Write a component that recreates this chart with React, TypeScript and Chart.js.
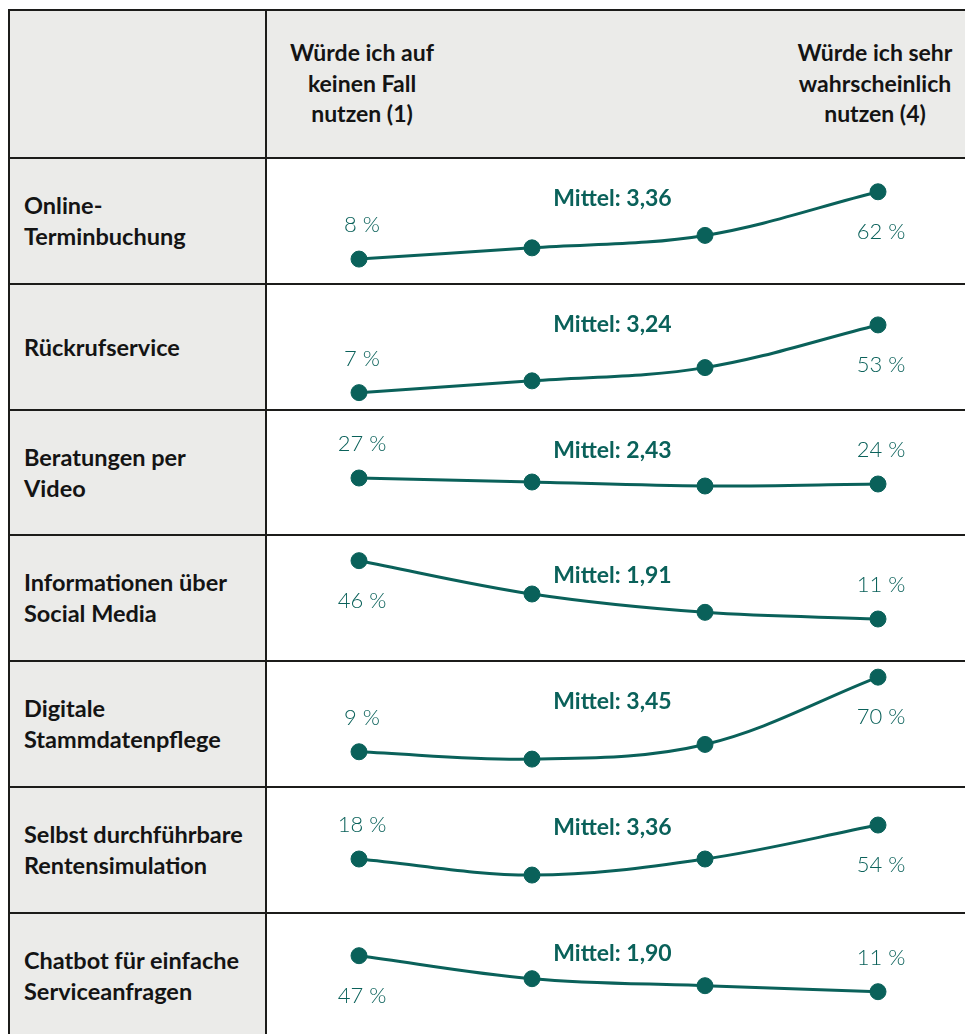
import React, { useEffect, useRef } from "react";
import { Chart, registerables } from "chart.js";

Chart.register(...registerables);

// ---------- data ----------
const categories = ["1", "2", "3", "4"];
const headerLow = ["Würde ich auf", "keinen Fall", "nutzen (1)"];
const headerHigh = ["Würde ich sehr", "wahrscheinlich", "nutzen (4)"];
const rowLabels = [
  ["Online-", "Terminbuchung"],
  ["Rückrufservice"],
  ["Beratungen per", "Video"],
  ["Informationen über", "Social Media"],
  ["Digitale", "Stammdatenpflege"],
  ["Selbst durchführbare", "Rentensimulation"],
  ["Chatbot für einfache", "Serviceanfragen"],
];
const onlineTerminbuchung = [8, 17, 27, 62];
const rueckrufservice = [7, 15, 24, 53];
const beratungenVideo = [27, 25, 23, 24];
const socialMedia = [46, 26, 15, 11];
const stammdatenpflege = [9, 3, 15, 70];
const rentensimulation = [18, 1, 18, 54];
const chatbot = [47, 24, 17, 11];
const series = [
  onlineTerminbuchung,
  rueckrufservice,
  beratungenVideo,
  socialMedia,
  stammdatenpflege,
  rentensimulation,
  chatbot,
];
const means = [3.36, 3.24, 2.43, 1.91, 3.45, 3.36, 1.9];
// per-row value axis ranges
const yMin = [-12, -4.8, -2, -14.2, -19.8, -39.2, -36.3];
const yMax = [89.1, 80.8, 61, 61.4, 83.2, 94.3, 89.7];

// ---------- style / layout ----------
const TEAL = "#0a615a";
const LINE = "#1c1c1a";
const GRAY = "#ebebe9";
const FONT = "Lato, 'Noto Sans', sans-serif";
const TABLE_LEFT = 9;
const TABLE_TOP = 10;
const COL_X = 266;
const HEAD_BOTTOM = 158;
const ROW_H = 125.8;
const PAGE_W = 965;
const PAGE_H = 1034;

function RowChart(props: { values: number[]; mean: number; min: number; max: number; top: number; height: number }) {
  const ref = useRef<HTMLCanvasElement | null>(null);
  const { values, mean, min, max, top, height } = props;
  const width = PAGE_W - COL_X;
  useEffect(() => {
    if (!ref.current) return;
    const labelPlugin = {
      id: "rowLabels",
      afterDatasetsDraw(chart: any) {
        const { ctx, chartArea } = chart;
        const meta = chart.getDatasetMeta(0);
        const data = chart.data.datasets[0].data as number[];
        const mid = (chartArea.top + chartArea.bottom) / 2;
        ctx.save();
        ctx.fillStyle = TEAL;
        ctx.textAlign = "center";
        ctx.textBaseline = "middle";
        ctx.font = `300 22px ${FONT}`;
        [0, data.length - 1].forEach((i) => {
          const p = meta.data[i];
          const y = p.y > mid ? p.y - 34 : p.y + 40;
          ctx.fillText(`${data[i]} %`, p.x + 3, y);
        });
        ctx.font = `bold 23px ${FONT}`;
        ctx.fillText(
          `Mittel: ${mean.toFixed(2).replace(".", ",")}`,
          chart.width / 2 - 3,
          chartArea.top + 41
        );
        ctx.restore();
      },
    };
    const chart = new Chart(ref.current, {
      type: "line",
      data: {
        labels: categories,
        datasets: [
          {
            data: values,
            borderColor: TEAL,
            backgroundColor: TEAL,
            borderWidth: 3,
            pointRadius: 8,
            pointHoverRadius: 8,
            pointBackgroundColor: TEAL,
            pointBorderColor: TEAL,
            pointBorderWidth: 1,
            tension: 0.35,
            fill: false,
            clip: false as any,
          },
        ],
      },
      options: {
        animation: false,
        responsive: false,
        events: [],
        layout: { autoPadding: false, padding: { left: 93, right: 87, top: 0, bottom: 0 } },
        plugins: { legend: { display: false }, tooltip: { enabled: false } },
        scales: {
          x: { display: false, offset: false },
          y: { display: false, min, max },
        },
      },
      plugins: [labelPlugin],
    });
    return () => chart.destroy();
  }, [values, mean, min, max]);
  return (
    <canvas
      ref={ref}
      width={width}
      height={height}
      style={{ position: "absolute", left: COL_X, top, width, height }}
    />
  );
}

export default function App() {
  const rowTops = series.map((_, i) => Math.round(HEAD_BOTTOM + i * ROW_H));
  const hLines = [TABLE_TOP, HEAD_BOTTOM, ...series.map((_, i) => Math.round(HEAD_BOTTOM + (i + 1) * ROW_H))];
  const headText: React.CSSProperties = {
    position: "absolute",
    top: 37,
    width: 240,
    textAlign: "center",
    font: `bold 23px/30.5px ${FONT}`,
    color: "#141414",
  };
  return (
    <div
      style={{
        position: "fixed",
        left: 0,
        top: 0,
        width: PAGE_W,
        height: PAGE_H,
        overflow: "hidden",
        background: "#fff",
      }}
    >
      {/* header background */}
      <div style={{ position: "absolute", left: TABLE_LEFT, top: TABLE_TOP, width: PAGE_W, height: HEAD_BOTTOM - TABLE_TOP, background: GRAY }} />
      {/* left column background */}
      <div style={{ position: "absolute", left: TABLE_LEFT, top: TABLE_TOP, width: COL_X - TABLE_LEFT, height: PAGE_H, background: GRAY }} />
      {/* header texts */}
      <div style={{ ...headText, left: 362 - 120 }}>
        {headerLow.map((t, i) => (
          <div key={i}>{t}</div>
        ))}
      </div>
      <div style={{ ...headText, left: 875 - 120 }}>
        {headerHigh.map((t, i) => (
          <div key={i}>{t}</div>
        ))}
      </div>
      {/* row labels */}
      {rowLabels.map((lines, i) => (
        <div
          key={i}
          style={{
            position: "absolute",
            left: TABLE_LEFT + 15,
            top: rowTops[i],
            width: COL_X - TABLE_LEFT - 15,
            height: ROW_H,
            display: "flex",
            flexDirection: "column",
            justifyContent: "center",
            font: `bold 23.5px/30.5px ${FONT}`,
            color: "#141414",
            whiteSpace: "nowrap",
          }}
        >
          {lines.map((t, j) => (
            <div key={j}>{t}</div>
          ))}
        </div>
      ))}
      {/* charts */}
      {series.map((vals, i) => (
        <RowChart key={i} values={vals} mean={means[i]} min={yMin[i]} max={yMax[i]} top={rowTops[i]} height={126} />
      ))}
      {/* grid lines */}
      {hLines.map((y, i) => (
        <div key={"h" + i} style={{ position: "absolute", left: TABLE_LEFT - 1, top: y - 1, width: PAGE_W, height: 2, background: LINE }} />
      ))}
      {[TABLE_LEFT, COL_X].map((x, i) => (
        <div key={"v" + i} style={{ position: "absolute", left: x - 1, top: TABLE_TOP - 1, width: 2, height: PAGE_H, background: LINE }} />
      ))}
    </div>
  );
}
